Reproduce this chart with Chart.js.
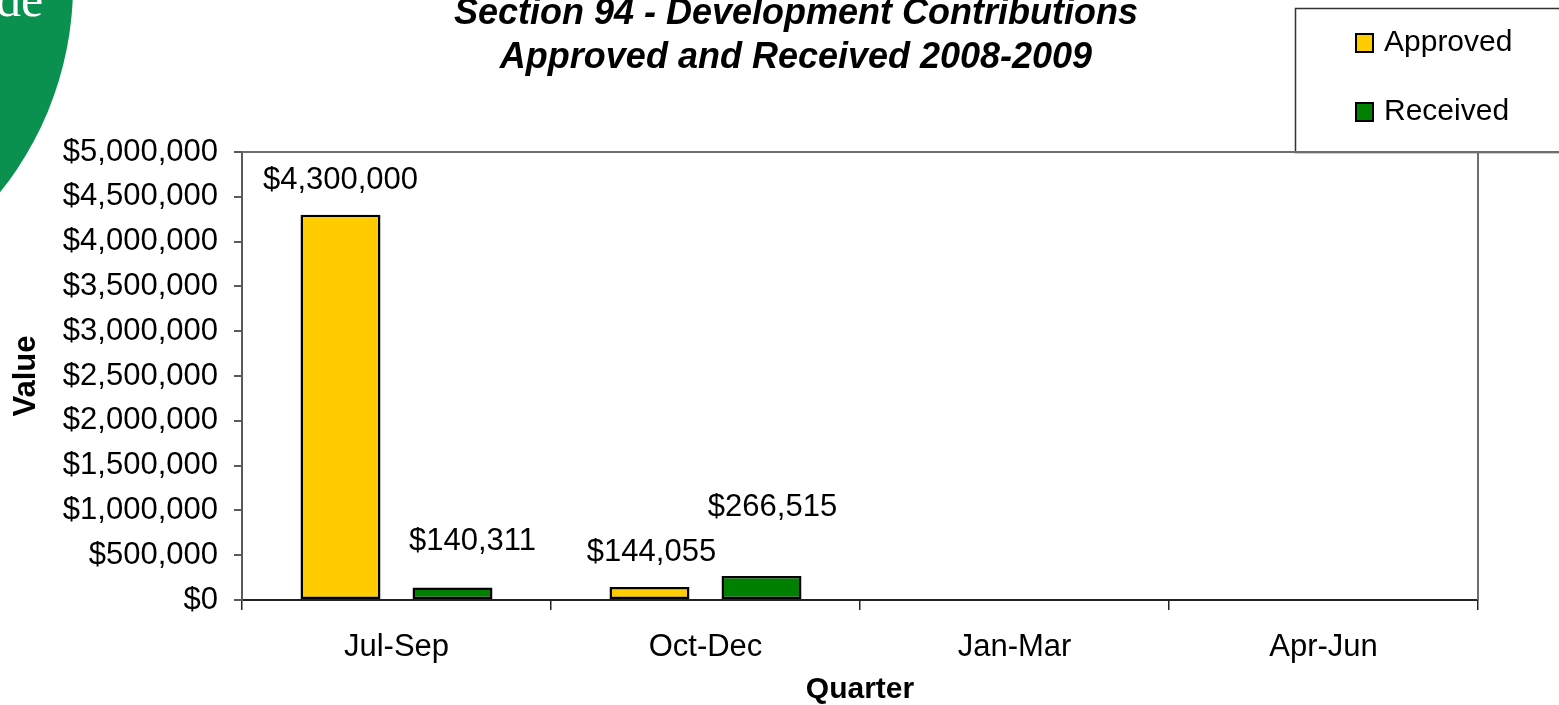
<!DOCTYPE html>
<html>
<head>
<meta charset="utf-8">
<script src="https://cdn.jsdelivr.net/npm/chart.js@4/dist/chart.umd.min.js"></script>
<style>
  html, body { margin: 0; padding: 0; background: #ffffff; }
  #wrap { width: 1559px; height: 705px; position: relative; }
  canvas { display: block; }
</style>
</head>
<body>
<div id="wrap"><canvas id="c" width="1559" height="705"></canvas></div>
<script>
// Quarterly Section 94 contributions, 2008-2009
const quarters = ['Jul-Sep', 'Oct-Dec', 'Jan-Mar', 'Apr-Jun'];
const approved = [4300000, 144055, null, null];
const received = [140311, 266515, null, null];
const yTicks = [0, 500000, 1000000, 1500000, 2000000, 2500000, 3000000, 3500000, 4000000, 4500000, 5000000];
const titleLines = ['Section 94 - Development Contributions', 'Approved and Received 2008-2009'];

// value-label nudges (px) per dataset, relative to the bar top centre
const labelShift = [
  [[0, -34], [2, -35]],
  [[20, -46], [11, -69]]
];

const FONT = "'Liberation Sans', Arial, sans-serif";
const money = v => '$' + Number(v).toLocaleString('en-US');

// page decoration, title, legend box and plot frame
const decor = {
  id: 'decor',
  beforeDraw(chart) {
    const ctx = chart.ctx;
    ctx.save();
    ctx.fillStyle = '#ffffff';
    ctx.fillRect(0, 0, chart.width, chart.height);
    // corner emblem
    ctx.beginPath();
    ctx.arc(-258, -15, 331, 0, Math.PI * 2);
    ctx.fillStyle = '#0b914f';
    ctx.fill();
    ctx.fillStyle = '#ffffff';
    ctx.font = "300 50px 'Liberation Serif', serif";
    ctx.textBaseline = 'alphabetic';
    ctx.textAlign = 'left';
    ctx.fillText('de', -4, 16);
    ctx.restore();
  },
  afterDraw(chart) {
    const ctx = chart.ctx;
    const a = chart.chartArea;
    ctx.save();
    // title
    ctx.fillStyle = '#000000';
    ctx.font = "italic bold 36px " + FONT;
    ctx.textAlign = 'center';
    ctx.textBaseline = 'middle';
    ctx.fillText(titleLines[0], 796, 14);
    ctx.fillText(titleLines[1], 796, 58);

    // legend box
    ctx.fillStyle = '#ffffff';
    ctx.fillRect(1295, 8, chart.width, a.top - 8);
    ctx.strokeStyle = '#333333';
    ctx.lineWidth = 1.5;
    ctx.strokeRect(1295.5, 8.5, chart.width, a.top - 8);
    const rowsY = [43, 112];
    chart.data.datasets.forEach((ds, i) => {
      ctx.fillStyle = ds.backgroundColor;
      ctx.fillRect(1356, rowsY[i] - 9, 17, 18);
      ctx.strokeStyle = '#000000';
      ctx.lineWidth = 2;
      ctx.strokeRect(1356, rowsY[i] - 9, 17, 18);
      ctx.fillStyle = '#000000';
      ctx.font = "30px " + FONT;
      ctx.textAlign = 'left';
      ctx.textBaseline = 'middle';
      ctx.fillText(ds.label, 1384, rowsY[i]);
    });

    // plot frame: top edge and right edge
    ctx.strokeStyle = '#6e6e6e';
    ctx.lineWidth = 2;
    ctx.beginPath();
    ctx.moveTo(a.left, a.top);
    ctx.lineTo(chart.width, a.top);
    ctx.moveTo(a.right, a.top);
    ctx.lineTo(a.right, a.bottom);
    ctx.stroke();

    // value labels
    ctx.fillStyle = '#000000';
    ctx.font = "31px " + FONT;
    ctx.textAlign = 'center';
    ctx.textBaseline = 'middle';
    chart.data.datasets.forEach((ds, di) => {
      const meta = chart.getDatasetMeta(di);
      meta.data.forEach((bar, i) => {
        const v = ds.data[i];
        if (v === null || v === undefined) return;
        const sh = (labelShift[di] && labelShift[di][i]) || [0, -30];
        ctx.fillText(money(v), bar.x + sh[0], bar.y + sh[1]);
      });
    });
    ctx.restore();
  }
};

new Chart(document.getElementById('c'), {
  type: 'bar',
  data: {
    labels: quarters,
    datasets: [
      { label: 'Approved', data: approved, backgroundColor: '#ffcc00', borderColor: '#000000', borderWidth: 2.5, borderSkipped: false },
      { label: 'Received', data: received, backgroundColor: '#008000', borderColor: '#000000', borderWidth: 2.5, borderSkipped: false }
    ]
  },
  options: {
    responsive: false,
    animation: false,
    devicePixelRatio: 1,
    categoryPercentage: 0.725,
    barPercentage: 0.714,
    layout: { padding: { left: 0, top: 152, right: 81, bottom: 0 } },
    plugins: {
      legend: { display: false },
      title: { display: false },
      tooltip: { enabled: false }
    },
    scales: {
      x: {
        grid: { offset: true, drawOnChartArea: false, drawTicks: true, tickLength: 10, color: '#222222', lineWidth: 1.5 },
        border: { display: true, color: '#222222', width: 2 },
        ticks: { color: '#000000', font: { family: FONT, size: 31 }, padding: 19, maxRotation: 0 },
        title: { display: true, text: 'Quarter', color: '#000000', font: { family: FONT, size: 30, weight: 'bold', lineHeight: 1.0 }, padding: { top: 0, bottom: 0 } },
        afterFit(scale) { scale.height = 105; }
      },
      y: {
        min: 0,
        max: 5000000,
        afterBuildTicks(scale) { scale.ticks = yTicks.map(v => ({ value: v })); },
        grid: { drawOnChartArea: false, drawTicks: true, tickLength: 8, color: '#5a5a5a', lineWidth: 2 },
        border: { display: true, color: '#5a5a5a', width: 2 },
        ticks: { color: '#000000', font: { family: FONT, size: 31 }, padding: 16, callback: v => money(v) },
        title: { display: true, text: 'Value', color: '#000000', font: { family: FONT, size: 31, weight: 'bold' }, padding: { top: 8, bottom: 0 } },
        afterFit(scale) { scale.width = 242; }
      }
    }
  },
  plugins: [decor]
});
</script>
</body>
</html>
